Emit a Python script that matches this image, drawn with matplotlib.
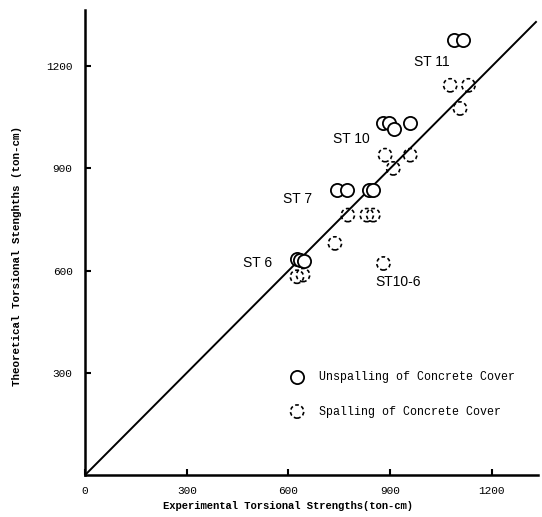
import matplotlib
matplotlib.use("Agg")
import matplotlib.pyplot as plt

# Unspalling of concrete cover (solid circles)
unsp_x = [1087, 1116, 880, 895, 912, 959, 742, 774, 836, 849, 625, 635, 645]
unsp_y = [1276, 1276, 1033, 1033, 1017, 1033, 838, 838, 838, 838, 633, 630, 627]

# Spalling of concrete cover (dashed circles)
sp_x = [1077, 1131, 1106, 885, 959, 909, 775, 831, 850, 737, 625, 643, 880]
sp_y = [1144, 1144, 1076, 939, 939, 900, 763, 763, 763, 680, 582, 587, 621]

# specimen group labels
grupos = ["ST 11", "ST 10", "ST 7", "ST 6", "ST10-6"]
grupos_x = [970, 731, 583, 465, 855]
grupos_y = [1212, 985, 809, 621, 567]

linha = [0, 1330]
ticks = [0, 300, 600, 900, 1200]

mono = "Liberation Mono"

fig = plt.figure(figsize=(5.42, 5.17), dpi=100)
ax = fig.add_axes([0.157, 0.0812, 0.835, 0.8994])

ax.plot(linha, linha, color="black", lw=1.4, zorder=1)

ax.scatter(unsp_x, unsp_y, s=90, facecolors="white", edgecolors="black",
           linewidths=1.3, zorder=3, label="Unspalling of Concrete Cover")
ax.scatter(sp_x, sp_y, s=90, facecolors="none", edgecolors="black",
           linewidths=1.2, linestyle=(0, (2.2, 1.6)), zorder=2,
           label="Spalling of Concrete Cover")

for nome, gx, gy in zip(grupos, grupos_x, grupos_y):
    ax.text(gx, gy, nome, fontsize=10, family="Liberation Sans",
            ha="left", va="center")

ax.set_xlim(0, 1335)
ax.set_ylim(0, 1365)
ax.set_xticks(ticks)
ax.set_yticks(ticks[1:])
ax.spines["top"].set_visible(False)
ax.spines["right"].set_visible(False)
ax.spines["left"].set_linewidth(1.8)
ax.spines["bottom"].set_linewidth(1.8)
ax.tick_params(direction="in", length=4, width=1.5, labelsize=8)
ax.tick_params(axis="y", pad=9)
ax.tick_params(axis="x", pad=8)
for lab in ax.get_xticklabels() + ax.get_yticklabels():
    lab.set_family(mono)

ax.set_xlabel("Experimental Torsional Strengths(ton-cm)", family=mono,
              fontsize=7.6, fontweight="bold")
ax.xaxis.set_label_coords(0.448, -0.055)
ax.set_ylabel("Theoretical Torsional Stenghths (ton-cm)", family=mono,
              fontsize=7.8, fontweight="bold")
ax.yaxis.set_label_coords(-0.14, 0.47)

leg = ax.legend(loc="upper left", bbox_to_anchor=(0.453, 0.224), frameon=False,
                prop={"family": mono, "size": 8.4}, handlelength=1.2,
                handletextpad=1.3, labelspacing=1.95, borderpad=0,
                borderaxespad=0)

fig.savefig("out.png", dpi=100)
